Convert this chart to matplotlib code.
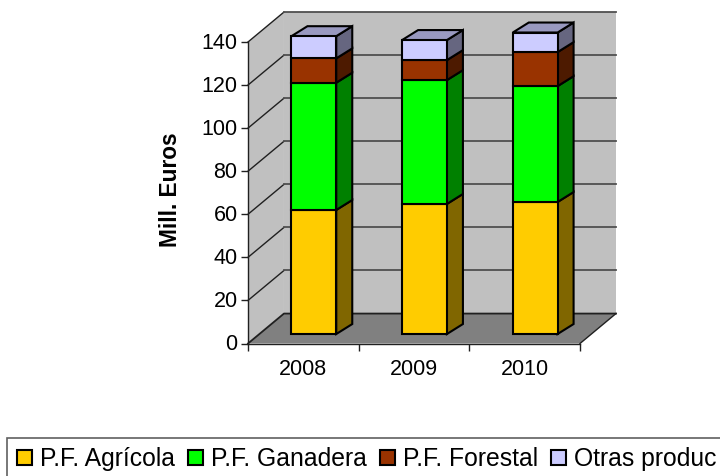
import matplotlib
matplotlib.use("Agg")
import matplotlib.pyplot as plt
from matplotlib.patches import Patch, Polygon, Rectangle
from matplotlib.transforms import Affine2D

plt.rcParams["font.family"] = ["Liberation Sans", "DejaVu Sans"]

years = ["2008", "2009", "2010"]
agricola = [57.6, 60.4, 61.3]
ganadera = [59.1, 57.5, 53.8]
forestal = [11.3, 9.3, 15.8]
otras = [10.3, 9.3, 9.1]

series_names = ["P.F. Agrícola", "P.F. Ganadera", "P.F. Forestal", "Otras produc"]
series_values = [agricola, ganadera, forestal, otras]
front_colors = ["#FFCC00", "#00FF00", "#993300", "#CCCCFF"]
side_colors = ["#806600", "#008000", "#4D1A00", "#666680"]
top_color = "#9999C0"
y_ticks = [0, 20, 40, 60, 80, 100, 120, 140]

# depth of the box and of the bars, in data units
wall_dx, wall_dy = 0.325, 13.9
bar_dx, bar_dy = 0.1446, 4.64
bar_shift_x, bar_shift_y = 0.095, 4.4
bar_width = 0.405

fig = plt.figure(figsize=(7.2, 4.76), dpi=100)
ax = fig.add_axes([248 / 720, (476 - 343.5) / 476, 332 / 720, 301.5 / 476])
ax.set_xlim(0, 3)
ax.set_ylim(0, 140)
ax.patch.set_visible(False)


def poly(points, color, edge="none", lw=0, z=1):
    ax.add_patch(Polygon(points, closed=True, facecolor=color, edgecolor=edge,
                         linewidth=lw, zorder=z, clip_on=False, joinstyle="miter"))


# walls and floor
poly([(0, 0), (wall_dx, wall_dy), (wall_dx, 140 + wall_dy), (0, 140)], "#C0C0C0")
poly([(wall_dx, wall_dy), (3 + wall_dx, wall_dy), (3 + wall_dx, 140 + wall_dy),
      (wall_dx, 140 + wall_dy)], "#C0C0C0")
poly([(0, 0), (3, 0), (3 + wall_dx, wall_dy), (wall_dx, wall_dy)], "#808080")

for v in y_ticks:
    if v > 0:
        ax.plot([0, wall_dx], [v, v + wall_dy], color="#202020", lw=1, zorder=2, clip_on=False)
        ax.plot([wall_dx, 3 + wall_dx], [v + wall_dy, v + wall_dy], color="#505050", lw=1.3,
                zorder=2, clip_on=False)
ax.plot([0, wall_dx, 3 + wall_dx], [0, wall_dy, wall_dy], color="#202020", lw=1.3, zorder=2, clip_on=False)
ax.plot([3, 3 + wall_dx], [0, wall_dy], color="#202020", lw=1, zorder=2, clip_on=False)

# stacked bars
for i in range(len(years)):
    left = i + 0.5 - bar_width / 2 + bar_shift_x
    right = left + bar_width
    bottom = bar_shift_y
    for k, vals in enumerate(series_values):
        h = vals[i]
        top = bottom + h
        poly([(right, bottom), (right + bar_dx, bottom + bar_dy), (right + bar_dx, top + bar_dy),
              (right, top)], side_colors[k], "black", 1.5, 3)
        ax.bar(left, h, bar_width, bottom=bottom, align="edge", color=front_colors[k],
               edgecolor="black", linewidth=1.5, zorder=4, clip_on=False)
        bottom = top
    poly([(left, bottom), (right, bottom), (right + bar_dx, bottom + bar_dy),
          (left + bar_dx, bottom + bar_dy)], top_color, "black", 1.5, 3)

# axes
for name in ["top", "right"]:
    ax.spines[name].set_visible(False)
for name in ["left", "bottom"]:
    ax.spines[name].set_color("#202020")
    ax.spines[name].set_linewidth(1)
    ax.spines[name].set_zorder(5)

ax.set_yticks(y_ticks)
ax.set_xticks([0, 1, 2, 3])
ax.set_xticklabels([])
ax.set_xticks([0.5, 1.5, 2.5], minor=True)
ax.set_xticklabels(years, minor=True)
ax.tick_params(axis="x", which="minor", length=0, labelsize=15.5, pad=11.5)
ax.tick_params(axis="x", which="major", length=4.8, width=1, color="#202020")
ax.tick_params(axis="y", length=5, width=1, color="#202020", labelsize=15.5, pad=2.5)
for label in ax.get_yticklabels():
    label.set_transform(label.get_transform() + Affine2D().translate(0, 1))
ax.set_ylabel("Mill. Euros", fontsize=16.3, fontweight="bold")
ax.yaxis.set_label_coords((182 - 248) / 332, (343.5 - 190) / 301.5)

# legend box runs off the right edge of the picture
fig.add_artist(Rectangle((7 / 720, -2 / 476), 720 / 720, 40 / 476, transform=fig.transFigure,
                         facecolor="white", edgecolor="#606060", linewidth=1.2))
handles = [Patch(facecolor=c, edgecolor="black", linewidth=1.5) for c in front_colors]
leg = fig.legend(handles, series_names, ncol=4, loc="center left",
                 bbox_to_anchor=(12 / 720, 17 / 476), borderaxespad=0,
                 fontsize=17.8, frameon=False,
                 handlelength=0.61, handleheight=0.57, handletextpad=0.33,
                 columnspacing=0.52, borderpad=0.2)

fig.savefig("out.png", dpi=100)
